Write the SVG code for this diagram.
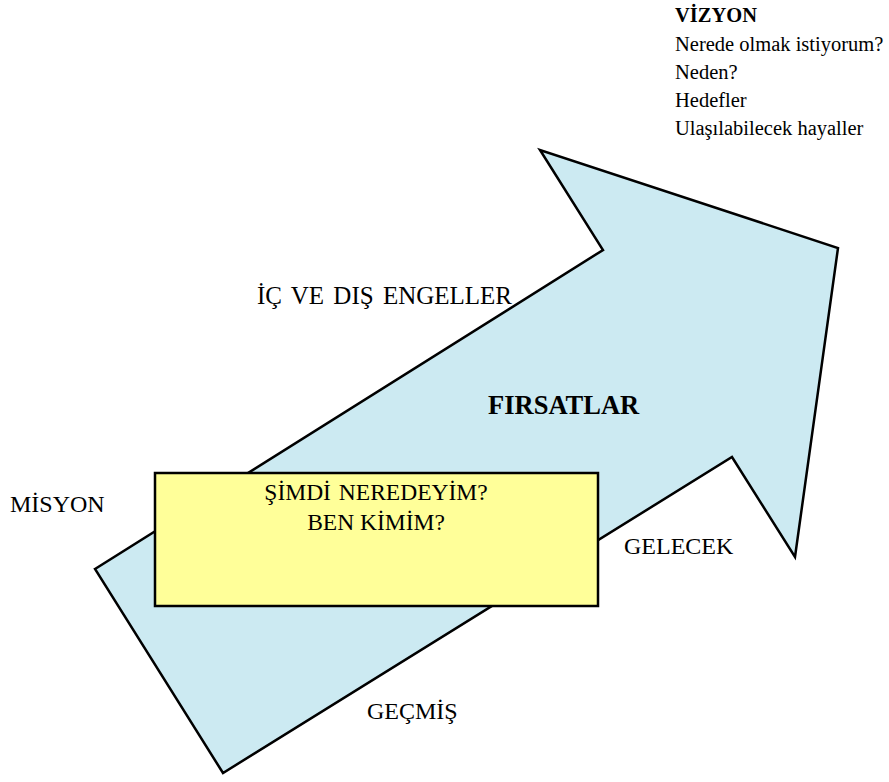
<svg xmlns="http://www.w3.org/2000/svg" width="889" height="782" viewBox="0 0 889 782" font-family="'Liberation Serif', 'Times New Roman', 'DejaVu Serif', serif">
<style>
text{font-family:'Liberation Serif','Times New Roman','DejaVu Serif',serif;fill:#000}
.v{font-size:20.5px}
.l{font-size:24px}
.m{font-size:23.5px}
.b{font-weight:bold}
.f{font-size:26.5px;font-weight:bold}
</style>
<rect width="889" height="782" fill="#fff"/>
<g id="arrow">
<polygon points="95,569 603,250 540,150 838,248 795,557 732,457 223,773" fill="#cceaf2" stroke="#000" stroke-width="2.5" stroke-linejoin="miter"/>
</g>
<g id="box">
<rect x="155" y="473" width="443" height="133" fill="#ffff99" stroke="#000" stroke-width="2.5"/>
<text x="376" y="500" text-anchor="middle" class="m" word-spacing="2">ŞİMDİ NEREDEYİM?</text>
<text x="376" y="530" text-anchor="middle" class="m">BEN KİMİM?</text>
</g>
<g id="vizyon">
<text x="675" y="22" class="v b">VİZYON</text>
<text x="675" y="51" class="v">Nerede olmak istiyorum?</text>
<text x="675" y="79" class="v">Neden?</text>
<text x="675" y="107" class="v">Hedefler</text>
<text x="675" y="135" class="v">Ulaşılabilecek hayaller</text>
</g>
<g id="labels">
<text x="257" y="304" class="l" font-size="25px" style="font-size:25px" word-spacing="3">İÇ VE DIŞ ENGELLER</text>
<text x="488" y="414" class="f">FIRSATLAR</text>
<text x="10" y="512" class="l">MİSYON</text>
<text x="624" y="554" class="l">GELECEK</text>
<text x="367" y="719" class="l">GEÇMİŞ</text>
</g>
</svg>
